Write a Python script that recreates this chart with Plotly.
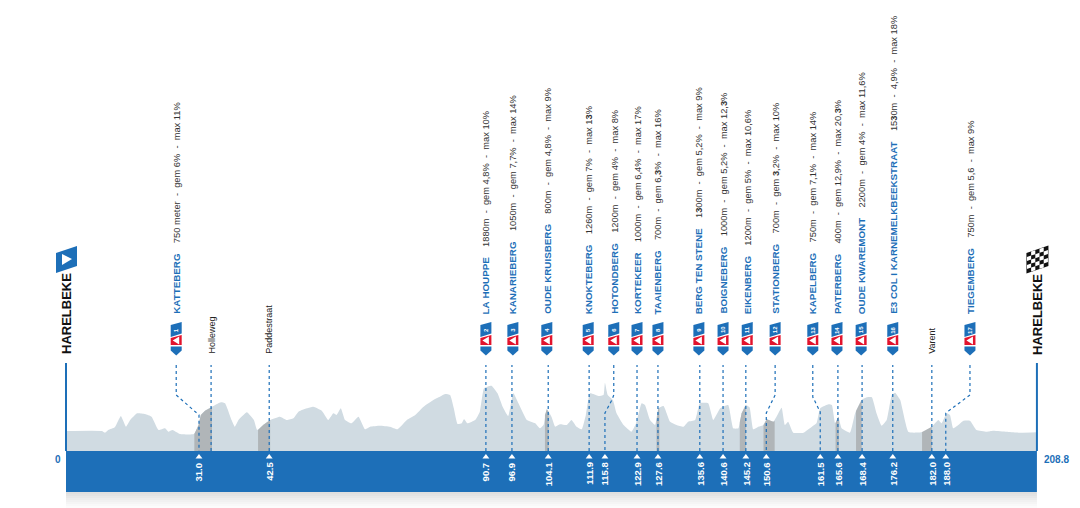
import plotly.graph_objects as go

total_km = 208.8
px_per_km = 4.65

# elevation profile, km along the route and height above the blue band
profile_km = [0, 7.7, 8.4, 9.1, 10.5, 11.8, 12.9, 13.8, 15.3, 17.0, 18.4, 19.9, 21.3, 22.0, 22.9, 24.5, 27.5, 28.5, 29.0, 29.9,
              31.7, 33.3, 34.2, 35.6, 36.3, 37.1, 38.9, 40.4, 41.1, 42.4, 43.9, 46.0, 47.5, 48.9, 50.0, 51.8, 53.2, 55.0, 56.4, 57.5,
              58.2, 59.1, 60.0, 61.4, 62.9, 64.3, 65.4, 67.5, 69.7, 71.3, 73.3, 75.1, 76.9, 79.0, 80.4, 81.5, 82.6, 83.4, 84.2, 85.1,
              85.6, 86.3, 88.0, 89.0, 89.9, 91.5, 92.8, 93.9, 95.1, 96.2, 97.3, 99.1, 100.9, 101.9, 102.7, 103.4, 104.4, 105.2, 106.2, 107.7,
              108.7, 109.8, 110.9, 111.8, 112.7, 114.5, 115.6, 115.9, 116.5, 117.6, 118.4, 119.9, 121.6, 122.6, 123.8, 124.5, 125.6, 126.7, 127.4, 128.5,
              129.9, 131.3, 132.8, 133.8, 135.3, 136.3, 138.1, 139.2, 140.7, 142.4, 143.5, 144.6, 145.3, 146.2, 147.0, 147.8, 148.9, 150.0, 150.7, 152.1,
              152.8, 153.9, 154.6, 155.3, 156.4, 158.6, 160.4, 161.4, 162.2, 164.0, 164.7, 165.4, 166.1, 166.8, 168.6, 169.7, 171.1, 172.2, 173.3, 174.3,
              175.4, 176.5, 177.6, 178.3, 179.4, 181.2, 184.4, 186.2, 187.6, 188.3, 189.4, 190.1, 190.8, 191.9, 193.0, 194.4, 195.8, 198.0, 199.4, 202.3,
              205.2, 208.8]
profile_h = [20, 20, 18.3, 21, 23.7, 35, 24.3, 31, 37.7, 37, 34.3, 21, 22.7, 19.3, 21, 17, 17, 26, 36, 40.3,
             45, 48.7, 47.7, 31, 24.3, 31, 38.7, 31, 21, 26, 31, 34.3, 31, 32.7, 39.3, 42.7, 44.3, 40.3, 31, 37.7,
             36, 42.7, 31, 27.7, 34.3, 21.7, 24.3, 25.3, 24.3, 21.7, 31, 36, 44.3, 51, 54.3, 57, 56, 42.7, 27, 27.7,
             32, 27.7, 31, 39.3, 62.7, 65.3, 57.7, 44.3, 35, 57.7, 47.7, 31, 27.7, 22.7, 26, 41.7, 34.3, 24.3, 26.7, 26,
             31, 24.3, 21.7, 36, 57.7, 55, 56, 68.3, 56, 51, 37.7, 26, 19.3, 27.7, 47.7, 46, 31, 26, 42.7, 45,
             29.3, 26, 24.3, 29.3, 31, 47.7, 47.7, 31, 42.7, 46, 22.7, 22.7, 37.7, 46, 43.7, 21.7, 24.3, 26, 31.7, 29.3,
             34.3, 43.3, 26, 29.3, 18.3, 18.3, 24.3, 27.7, 42.7, 46.7, 46, 27.7, 34.3, 22.7, 18.3, 37.7, 51, 53.7, 53.7, 37.7,
             25.3, 31, 56, 58.3, 51, 19, 19, 24.3, 31, 27.7, 37.7, 36, 22.7, 26, 30.3, 30.3, 21, 19.3, 20.3, 19.3,
             18.3, 18.7]

# darker stretches under the profile (cobbles)
cobble_km = [[27.6, 28.5, 29.0, 29.9, 31.4], [41.3, 42.4, 43.9], [103.0, 103.4, 103.8], [127.0, 127.4, 127.6],
             [144.9, 145.3, 146.2], [150.0, 150.7, 152.1, 152.4], [165.5, 166.1, 166.2], [169.9, 171.1], [184.1, 186.2]]
cobble_h = [[17, 26, 36, 40.3, 44], [21, 26, 31], [36, 41.7, 39], [30, 42.7, 43],
            [29, 37.7, 46], [26, 31.7, 29.3, 30], [28, 34.3, 33], [40, 51], [19, 24.3]]

# km labels along the band
km_labels = ["31.0", "42.5", "90.7", "96.9", "104.1", "111.9", "115.8", "122.9", "127.6", "135.6", "140.6",
             "145.2", "150.6", "161.5", "165.6", "168.4", "176.2", "182.0", "188.0"]
km_pos = [28.6, 43.7, 90.3, 95.9, 103.7, 112.5, 115.9, 122.8, 127.3, 136.3, 141.3, 146.2, 150.6, 162.2, 166.0, 171.2, 177.8, 186.2, 189.2]

# climbs
climb_names = ["KATTEBERG", "LA HOUPPE", "KANARIEBERG", "OUDE KRUISBERG", "KNOKTEBERG", "HOTONDBERG", "KORTEKEER", "TAAIENBERG",
               "BERG TEN STENE", "BOIGNEBERG", "EIKENBERG", "STATIONBERG", "KAPELBERG", "PATERBERG", "OUDE KWAREMONT",
               "E3 COL I KARNEMELKBEEKSTRAAT", "TIEGEMBERG"]
climb_info = ["750 meter  -  gem 6%  -  max 11%", "1880m  -  gem 4,8%  -  max 10%", "1050m  -  gem 7,7%  -  max 14%",
              "800m  -  gem 4,8%  -  max 9%", "1260m  -  gem 7%  -  max 1<b>3</b>%", "1200m  -  gem 4%  -  max 8%",
              "1000m  -  gem 6,4%  -  max 17%", "700m  -  gem 6,<b>3</b>%  -  max 16%", "1<b>3</b>00m  -  gem 5,2%  -  max 9%",
              "1000m  -  gem 5,2%  -  max 12,<b>3</b>%", "1200m  -  gem 5%  -  max 10,6%", "700m  -  gem <b>3</b>,2%  -  max 10%",
              "750m  -  gem 7,1%  -  max 14%", "400m  -  gem 12,9%  -  max 20,<b>3</b>%", "2200m  -  gem 4%  -  max 11,6%",
              "15<b>3</b>0m  -  4,9%  -  max 18%", "750m  -  gem 5,6  -  max 9%"]
climb_pos = [23.7, 90.3, 96.1, 103.4, 112.3, 117.8, 122.8, 127.3, 136.1, 141.3, 146.5, 152.5, 160.6, 165.8, 171.0, 177.8, 194.4]

# other named points
place_names = ["Holleweg", "Paddestraat", "Varent"]
place_pos = [31.2, 43.5, 186.2]

# leader lines that bend on the way down
bent_km = [[23.7, 23.7, 28.6, 28.6], [117.8, 117.8, 117.4, 115.9, 115.9], [152.5, 152.5, 150.6, 150.6],
           [160.6, 160.6, 162.2, 162.2], [194.4, 194.4, 189.2, 189.2]]
bent_h = [[86, 56, 36, 0], [86, 56, 51, 38, 0], [86, 56, 38, 0], [86, 54, 39, 0], [86, 56, 38, 0]]

# grey shadow under the band, getting lighter towards the bottom of the page
shadow_greys = ["#dfdfdf", "#e3e3e3", "#e8e8e8", "#ededed", "#f1f1f1", "#f5f5f5", "#f9f9f9", "#fcfcfc"]

blue = "#1d6fb8"
profile_grey = "#d0dbe2"
cobble_grey = "#b0b5b8"
red = "#e2142d"

fig = go.Figure()

fig.add_trace(go.Scatter(x=profile_km, y=profile_h, mode="lines", line=dict(width=0, shape="spline", smoothing=0.4),
                         fill="tozeroy", fillcolor=profile_grey))
for c in range(len(cobble_km)):
    fig.add_trace(go.Scatter(x=cobble_km[c], y=cobble_h[c], mode="lines", line=dict(width=0), fill="tozeroy", fillcolor=cobble_grey))

# band under the profile, kept below the traces so the arrows stay on top
for s in range(len(shadow_greys)):
    fig.add_shape(type="rect", x0=0, x1=total_km, y0=-41 - 2 * (s + 1), y1=-41 - 2 * s, fillcolor=shadow_greys[s],
                  line_width=0, layer="below")
fig.add_shape(type="rect", x0=0, x1=total_km, y0=-41, y1=0, fillcolor=blue, line_width=0, layer="below")
for x in [0, total_km]:
    fig.add_trace(go.Scatter(x=[x, x], y=[0, 88], mode="lines", line=dict(color=blue, width=2)))

# straight dotted leaders, the bent ones get their own path
straight = [p for p in km_pos if p not in (28.6, 115.9, 150.6, 162.2, 189.2)] + [31.2]
for p in straight:
    fig.add_trace(go.Scatter(x=[p, p], y=[0, 86], mode="lines", line=dict(color=blue, width=1.2, dash="dot")))
for b in range(len(bent_km)):
    fig.add_trace(go.Scatter(x=bent_km[b], y=bent_h[b], mode="lines", line=dict(color=blue, width=1.2, dash="dot")))

# little white arrows and km text on the band
fig.add_trace(go.Scatter(x=km_pos, y=[-6] * len(km_pos), mode="markers", marker=dict(symbol="triangle-up", size=6, color="white")))
for k in range(len(km_pos)):
    fig.add_annotation(x=km_pos[k], y=-10, text=f"<b>{km_labels[k]}</b>", textangle=-90, xanchor="center", yanchor="top",
                       showarrow=False, borderpad=0, font=dict(size=9.5, color="white"))

# climb badges and labels
for i in range(len(climb_pos)):
    parts = [("M -5.5 9 L 5.5 9 L 5.5 5 L 0 0 L -5.5 5 Z", blue),
             ("M -5.5 10.5 L 5.5 10.5 L 5.5 20.5 L -5.5 17.5 Z", red),
             ("M -5.5 18.5 L 5.5 22 L 5.5 33.5 L -5.5 30.5 Z", blue),
             ("M -3.5 15 L 3 11 L 3 19 Z", "white")]
    for path, colour in parts:
        fig.add_shape(type="path", path=path, xsizemode="pixel", ysizemode="pixel", xanchor=climb_pos[i], yanchor=95.5,
                      fillcolor=colour, line_width=0)
    fig.add_annotation(x=climb_pos[i], y=121, text=f"<b>{i + 1}</b>", textangle=-90, showarrow=False, borderpad=0,
                       font=dict(size=6, color="white"))
    info = climb_info[i].replace(" ", "\u00a0")
    name = climb_names[i].replace(" ", "\u00a0")
    fig.add_annotation(x=climb_pos[i], y=136,
                       text=f"<span style='font-size:9.8px;color:{blue}'><b>{name}</b></span>\u00a0\u00a0\u00a0\u00a0{info}",
                       textangle=-90, xanchor="center", yanchor="bottom", showarrow=False, borderpad=0,
                       font=dict(size=9.3, color="#333333", family="Liberation Sans"))

for n in range(len(place_names)):
    fig.add_annotation(x=place_pos[n], y=96, text=place_names[n], textangle=-90, xanchor="center", yanchor="bottom",
                       showarrow=False, borderpad=0, font=dict(size=9, color="#222222"))

# start and finish
for x in [0, total_km]:
    fig.add_annotation(x=x, y=95.5, text="<b>HARELBEKE</b>", textangle=-90, xanchor="center", yanchor="bottom",
                       showarrow=False, borderpad=0, font=dict(size=13, color="#111111"))
fig.add_shape(type="path", path="M -10 178 L 11 185 L 11 205 L -10 198 Z", xsizemode="pixel", ysizemode="pixel",
              xanchor=0, yanchor=0, fillcolor=blue, line_width=0)
fig.add_shape(type="path", path="M -4 186 L 6 192 L -4 197 Z", xsizemode="pixel", ysizemode="pixel",
              xanchor=0, yanchor=0, fillcolor="white", line_width=0)

# chequered flag, white squares on a black sheet
cells = 5
fig.add_shape(type="path", path="M -10.5 177.5 L 11.5 185 L 11.5 205.5 L -10.5 198 Z", xsizemode="pixel", ysizemode="pixel",
              xanchor=total_km, yanchor=0, fillcolor="#111111", line_width=0)
for r in range(cells):
    for c in range(cells):
        if (r + c) % 2 == 1:
            x0, x1 = -10 + 21 * c / cells, -10 + 21 * (c + 1) / cells
            b0, t0 = 178 + 7 * c / cells + 20 * r / cells, 178 + 7 * c / cells + 20 * (r + 1) / cells
            b1, t1 = 178 + 7 * (c + 1) / cells + 20 * r / cells, 178 + 7 * (c + 1) / cells + 20 * (r + 1) / cells
            fig.add_shape(type="path", path=f"M {x0} {b0} L {x1} {b1} L {x1} {t1} L {x0} {t0} Z", xsizemode="pixel",
                          ysizemode="pixel", xanchor=total_km, yanchor=0, fillcolor="white", line_width=0)

fig.add_annotation(x=-1.7, y=-8, text="<b>0</b>", showarrow=False, borderpad=0, font=dict(size=10, color=blue))
fig.add_annotation(x=total_km + 1.3, y=-8, text=f"<b>{total_km}</b>", xanchor="left", showarrow=False, borderpad=0,
                   font=dict(size=10, color=blue))

# the page puts an 8px margin round the plot, so the axes start 8px in
fig.update_layout(
    width=1072, height=500,
    margin=dict(l=0, r=0, t=0, b=0),
    paper_bgcolor="white", plot_bgcolor="white",
    showlegend=False,
    font=dict(family="Liberation Sans"),
    xaxis=dict(visible=False, range=[(8 - 66) / px_per_km, (1080 - 66) / px_per_km]),
    yaxis=dict(visible=False, range=[-57, 443]),
)
fig.write_html("out.html")
